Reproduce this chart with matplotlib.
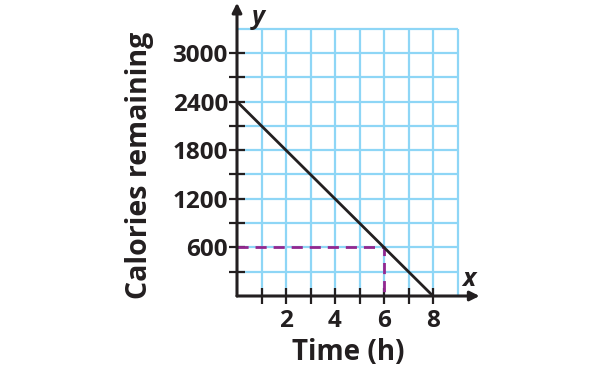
import matplotlib
matplotlib.use("Agg")
import matplotlib.pyplot as plt
import numpy as np

# data
time_h = [0, 8]
calories = [2400, 0]
marked_time = 6
marked_cal = 600
x_ticks = [1, 2, 3, 4, 5, 6, 7, 8]
x_labels = ["", "2", "", "4", "", "6", "", "8"]
y_ticks = [300, 600, 900, 1200, 1500, 1800, 2100, 2400, 2700, 3000]
y_labels = ["", "600", "", "1200", "", "1800", "", "2400", "", "3000"]
grid_x = [1, 2, 3, 4, 5, 6, 7, 8, 9]
grid_y = [300, 600, 900, 1200, 1500, 1800, 2100, 2400, 2700, 3000, 3300]

plt.rcParams["font.family"] = ["Open Sans", "DejaVu Sans"]

W, H = 607, 376
fig = plt.figure(figsize=(W / 100, H / 100), dpi=100)
xpx, ypx = 24.5, 24.3 / 300
x0, y0 = 237, 296
xmax, ymax = 9.9, 3620
ax = fig.add_axes([x0 / W, (H - y0) / H, xmax * xpx / W, ymax * ypx / H])
ax.set_xlim(0, xmax)
ax.set_ylim(0, ymax)

grid_c = "#8ed6f6"
ax.vlines(grid_x, 0, 3300, color=grid_c, lw=1.6, zorder=1)
ax.hlines(grid_y, 0, 9, color=grid_c, lw=1.6, zorder=1)

ax.plot([0, marked_time, marked_time], [marked_cal, marked_cal, 0],
        color="#93278f", lw=2, ls=(0, (4, 2.5)), zorder=2)
ax.plot(time_h, calories, color="#231f20", lw=2, zorder=3)

for s in ax.spines.values():
    s.set_visible(False)
ax.annotate("", xy=(xmax, 0), xytext=(0, 0), annotation_clip=False,
            arrowprops=dict(arrowstyle="-|>", lw=2.2, color="#231f20",
                            mutation_scale=14, shrinkA=0, shrinkB=0), zorder=4)
ax.annotate("", xy=(0, ymax), xytext=(0, 0), annotation_clip=False,
            arrowprops=dict(arrowstyle="-|>", lw=2.2, color="#231f20",
                            mutation_scale=14, shrinkA=0, shrinkB=0), zorder=4)

ax.set_xticks(x_ticks)
ax.set_xticklabels(x_labels)
ax.set_yticks(y_ticks)
ax.set_yticklabels(y_labels)
ax.tick_params(direction="inout", length=11, width=1.6, color="#231f20",
               labelsize=17.5)
ax.tick_params(axis="x", pad=4)
ax.tick_params(axis="y", pad=1)
for lab in ax.get_xticklabels() + ax.get_yticklabels():
    lab.set_fontweight("bold")
    lab.set_color("#231f20")

ax.text(9.45, 200, "x", fontsize=18, fontstyle="italic", fontweight="bold",
        color="#231f20", ha="center", va="center")
ax.text(0.85, 3440, "y", fontsize=18, fontstyle="italic", fontweight="bold",
        color="#231f20", ha="center", va="center", clip_on=False)

fig.text(140 / W, 1 - 165 / H, "Calories remaining", rotation=90, fontsize=20.5,
         fontweight="bold", color="#231f20", ha="center", va="center")
fig.text(348 / W, 1 - 353 / H, "Time (h)", fontsize=20,
         fontweight="bold", color="#231f20", ha="center", va="center")

fig.savefig("out.png", dpi=100)
